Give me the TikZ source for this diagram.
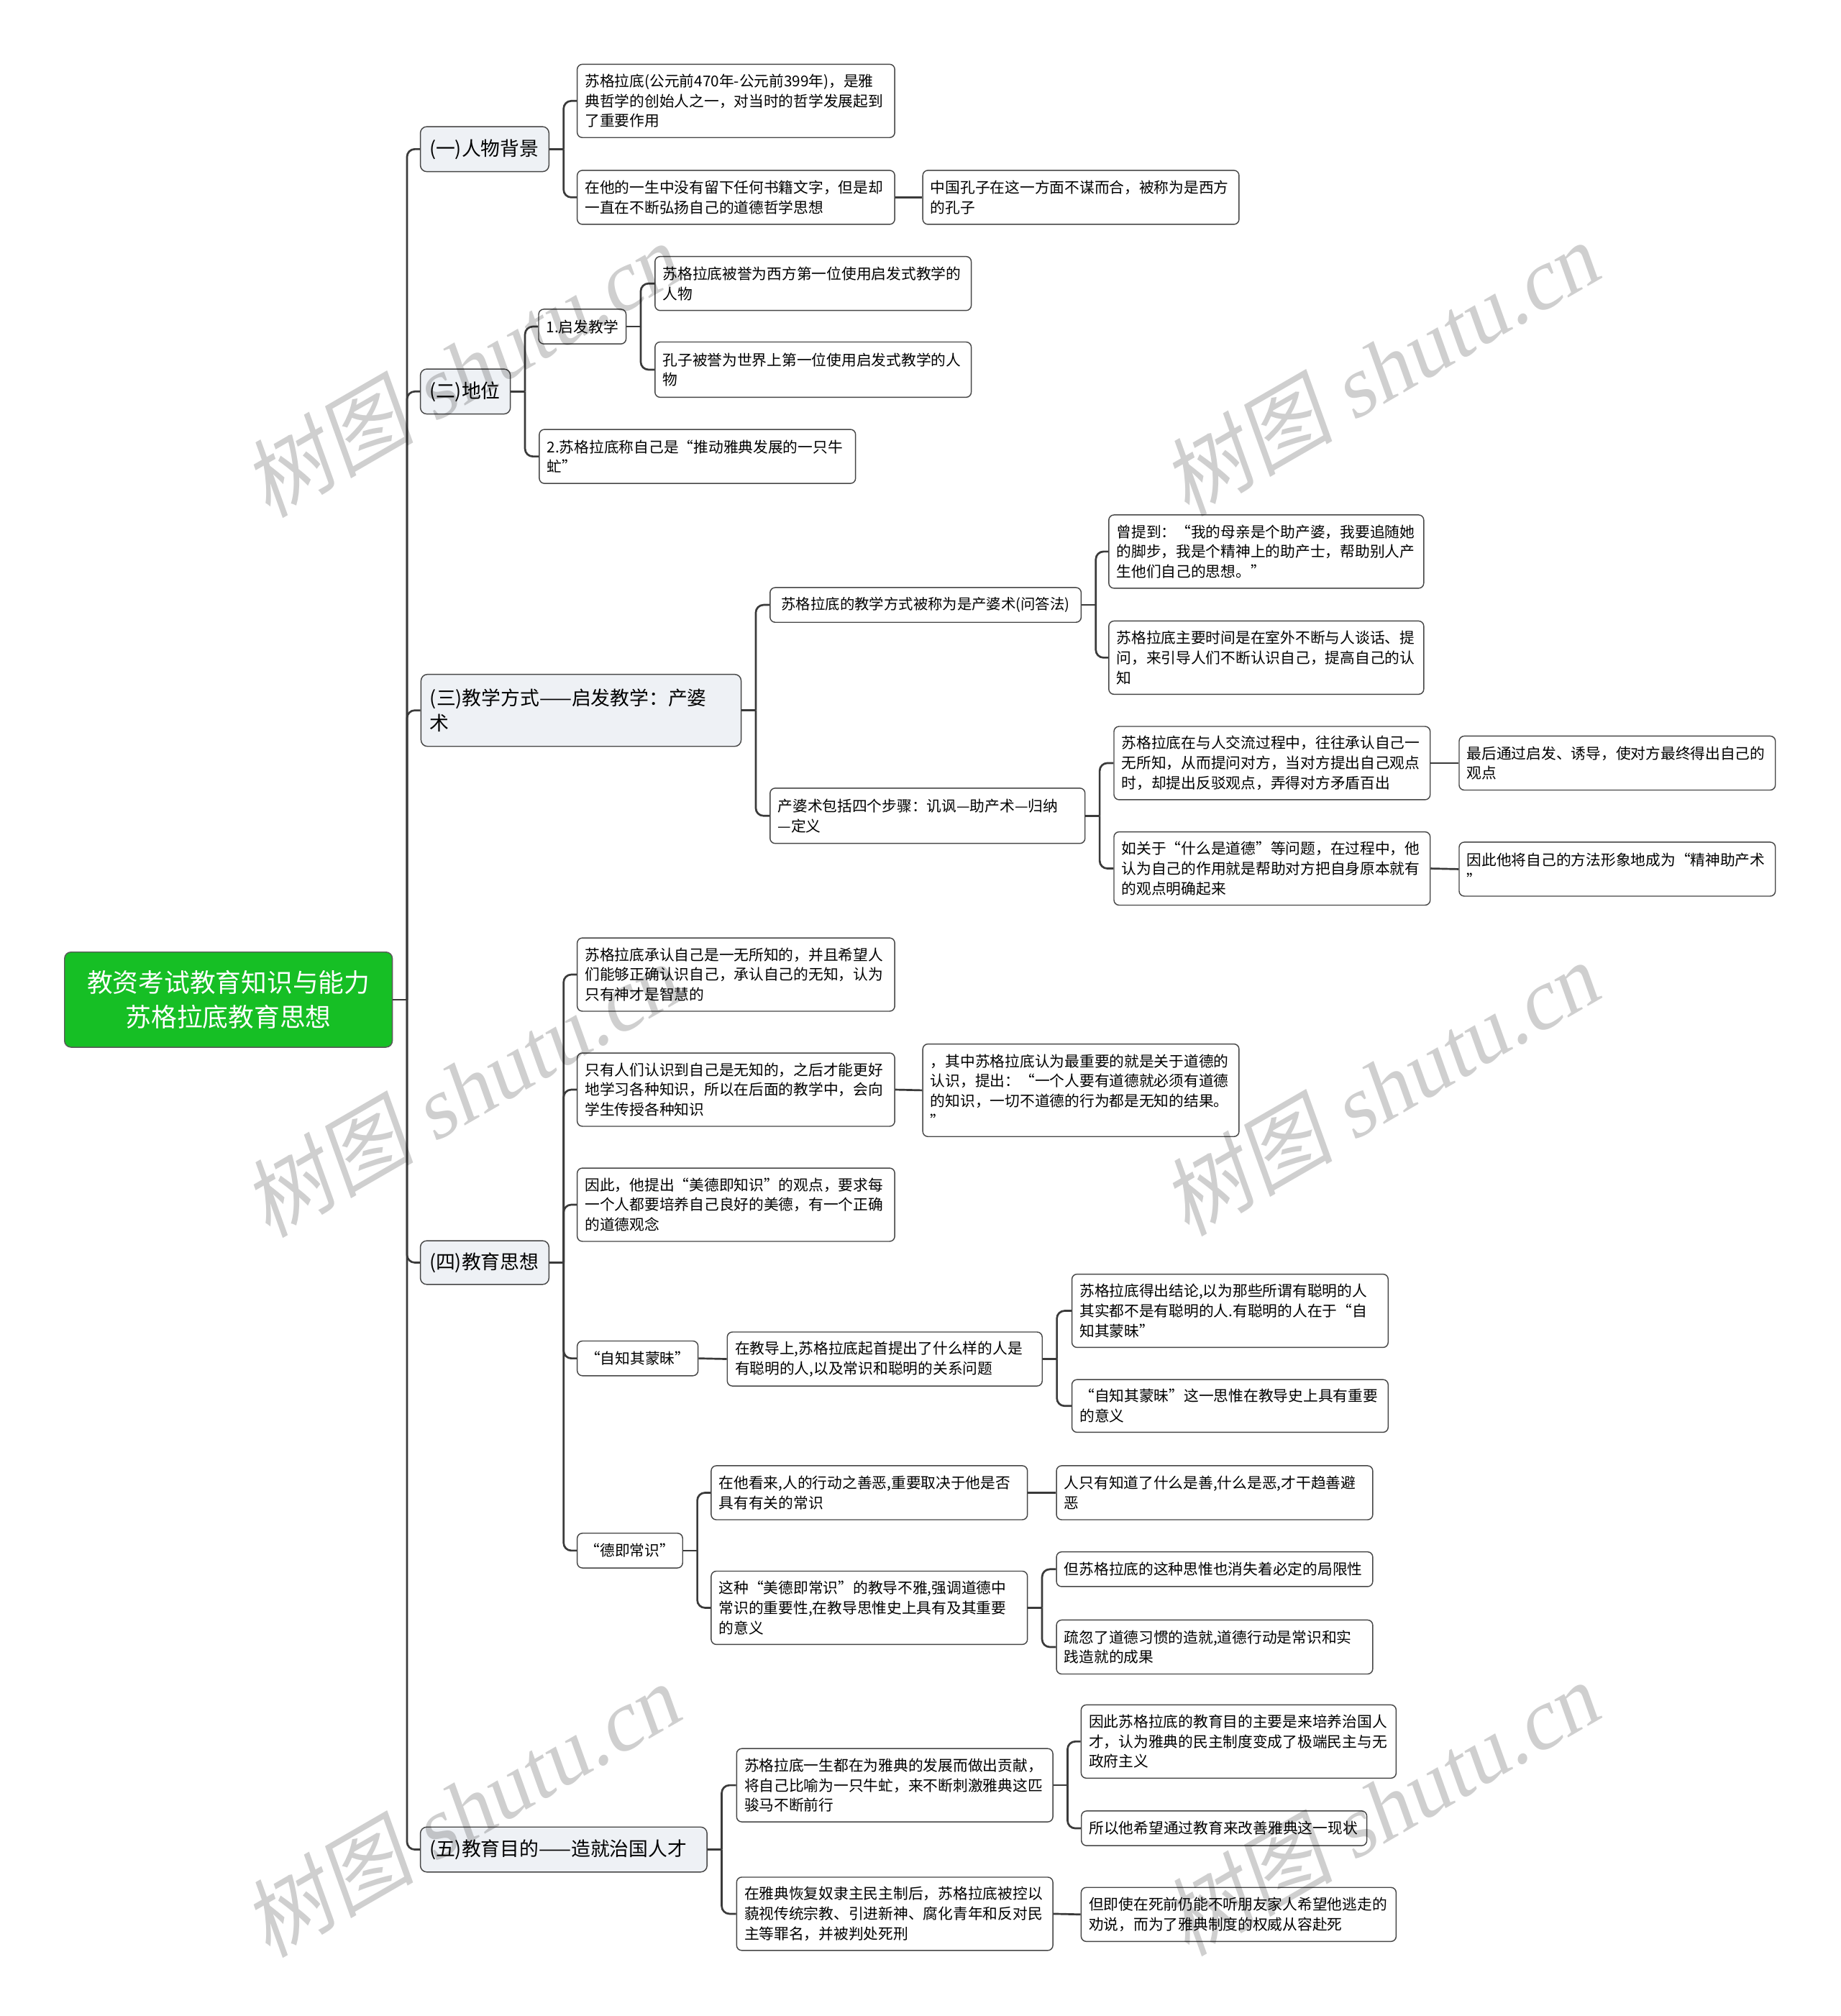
\documentclass[tikz,border=0pt]{standalone}
\usepackage{fontspec}
\setmainfont{Noto Sans CJK SC}
\newfontfamily\wmserif{Liberation Serif}[FakeSlant=0.18]
\newfontfamily\wmcjk{Noto Sans CJK SC}[FakeSlant=0.18]
\usetikzlibrary{calc}
\definecolor{linecol}{RGB}{58,58,58}
\definecolor{boxline}{RGB}{70,70,70}
\definecolor{topicfill}{RGB}{238,241,245}
\definecolor{rootfill}{RGB}{22,191,37}
\begin{document}
\begin{tikzpicture}[x=1pt,y=-1pt,
  leaf/.style={draw=boxline, line width=0.8pt, rounded corners=4pt, fill=white,
    font=\fontsize{11.6}{15.5}\selectfont, align=left, inner xsep=6pt, inner ysep=0pt},
  leafc/.style={leaf, align=center},
  topic/.style={draw=boxline, line width=0.8pt, rounded corners=5pt, fill=topicfill,
    font=\fontsize{15}{20}\selectfont, align=left, inner xsep=7pt, inner ysep=0pt},
  rootbox/.style={draw=black!65, line width=0.8pt, rounded corners=5pt, fill=rootfill,
    text=white, font=\fontsize{20}{27}\selectfont, align=center, inner sep=0pt},
  conn/.style={draw=linecol, line width=1.5pt, rounded corners=6pt},
  wmark/.style={text=black, text opacity=0.19, rotate=30, font=\fontsize{67}{67}\selectfont, inner sep=0pt}
]
\useasboundingbox (0,0) rectangle (1432,1568);
\fill[white] (0,0) rectangle (1432,1568);

% root and topics
\node[rootbox, minimum width=255pt, minimum height=74pt] (root) at (177.7,777.5) {教资考试教育知识与能力\\苏格拉底教育思想};
\node[topic, text width=86pt, minimum height=35pt] (T1) at (377,116) {(一)人物背景};
\node[topic, text width=56pt, minimum height=35pt] (T2) at (362,304.5) {(二)地位};
\node[topic, text width=235pt, minimum height=56pt] (T3) at (452,552.5) {(三)教学方式——启发教学：产婆\\术};
\node[topic, text width=86pt, minimum height=34pt] (T4) at (377,982) {(四)教育思想};
\node[topic, text width=209pt, minimum height=35pt] (T5) at (438.5,1438.5) {(五)教育目的——造就治国人才};

% (一)
\node[leaf, text width=235pt, minimum height=57pt] (A1) at (572.5,78.5) {苏格拉底(公元前470年-公元前399年)，是雅\\典哲学的创始人之一，对当时的哲学发展起到\\了重要作用};
\node[leaf, text width=235pt, minimum height=42pt] (A2) at (572.5,153.5) {在他的一生中没有留下任何书籍文字，但是却\\一直在不断弘扬自己的道德哲学思想};
\node[leaf, text width=234pt, minimum height=42pt] (A2a) at (840.8,153.5) {中国孔子在这一方面不谋而合，被称为是西方\\的孔子};

% (二)
\node[leafc, minimum width=68pt, minimum height=27pt, inner xsep=3pt] (B1) at (453,254) {1.启发教学};
\node[leaf, text width=234pt, minimum height=42pt] (B1a) at (632.5,220.5) {苏格拉底被誉为西方第一位使用启发式教学的\\人物};
\node[leaf, text width=234pt, minimum height=43pt] (B1b) at (632.5,287.5) {孔子被誉为世界上第一位使用启发式教学的人\\物};
\node[leaf, text width=234pt, minimum height=42pt] (B2) at (542.5,355) {2.苏格拉底称自己是“推动雅典发展的一只牛\\虻”};

% (三)
\node[leafc, minimum width=242pt, minimum height=27pt, inner xsep=2pt, font=\fontsize{11.4}{15.5}\selectfont] (C1) at (720,470.5) {苏格拉底的教学方式被称为是产婆术(问答法)};
\node[leaf, text width=233pt, minimum height=57pt] (C1a) at (985,429) {曾提到：“我的母亲是个助产婆，我要追随她\\的脚步，我是个精神上的助产士，帮助别人产\\生他们自己的思想。”};
\node[leaf, text width=233pt, minimum height=57pt] (C1b) at (985,511.5) {苏格拉底主要时间是在室外不断与人谈话、提\\问，来引导人们不断认识自己，提高自己的认\\知};
\node[leaf, text width=233pt, minimum height=43pt] (C2) at (721.5,634.5) {产婆术包括四个步骤：讥讽—助产术—归纳\\—定义};
\node[leaf, text width=234pt, minimum height=57pt] (C2a) at (989.5,593.5) {苏格拉底在与人交流过程中，往往承认自己一\\无所知，从而提问对方，当对方提出自己观点\\时，却提出反驳观点，弄得对方矛盾百出};
\node[leaf, text width=234pt, minimum height=42pt] (C2a1) at (1258,593.5) {最后通过启发、诱导，使对方最终得出自己的\\观点};
\node[leaf, text width=234pt, minimum height=57pt] (C2b) at (989.5,675.5) {如关于“什么是道德”等问题，在过程中，他\\认为自己的作用就是帮助对方把自身原本就有\\的观点明确起来};
\node[leaf, text width=234pt, minimum height=42pt] (C2b1) at (1258,676) {因此他将自己的方法形象地成为“精神助产术\\”};

% (四)
\node[leaf, text width=235pt, minimum height=57pt] (D1) at (572.5,758) {苏格拉底承认自己是一无所知的，并且希望人\\们能够正确认识自己，承认自己的无知，认为\\只有神才是智慧的};
\node[leaf, text width=235pt, minimum height=57pt] (D2) at (572.5,847.5) {只有人们认识到自己是无知的，之后才能更好\\地学习各种知识，所以在后面的教学中，会向\\学生传授各种知识};
\node[leaf, text width=234pt, minimum height=72pt] (D2a) at (840.8,848) {，其中苏格拉底认为最重要的就是关于道德的\\认识，提出：“一个人要有道德就必须有道德\\的知识，一切不道德的行为都是无知的结果。\\”};
\node[leaf, text width=235pt, minimum height=57pt] (D3) at (572.5,937) {因此，他提出“美德即知识”的观点，要求每\\一个人都要培养自己良好的美德，有一个正确\\的道德观念};
\node[leafc, minimum width=94pt, minimum height=27pt, inner xsep=3pt] (D4) at (496,1056.5) {“自知其蒙昧”};
\node[leaf, text width=233pt, minimum height=42pt] (D4a) at (688.2,1057) {在教导上,苏格拉底起首提出了什么样的人是\\有聪明的人,以及常识和聪明的关系问题};
\node[leaf, text width=234pt, minimum height=57pt] (D4a1) at (956.8,1019.5) {苏格拉底得出结论,以为那些所谓有聪明的人\\其实都不是有聪明的人.有聪明的人在于“自\\知其蒙昧”};
\node[leaf, text width=234pt, minimum height=41pt] (D4a2) at (956.8,1093.5) {“自知其蒙昧”这一思惟在教导史上具有重要\\的意义};
\node[leafc, minimum width=82pt, minimum height=27pt, inner xsep=3pt] (D5) at (490,1206) {“德即常识”};
\node[leaf, text width=234pt, minimum height=42pt] (D5a) at (676.2,1161) {在他看来,人的行动之善恶,重要取决于他是否\\具有有关的常识};
\node[leaf, text width=234pt, minimum height=42pt] (D5a1) at (944.8,1161) {人只有知道了什么是善,什么是恶,才干趋善避\\恶};
\node[leaf, text width=234pt, minimum height=57pt] (D5b) at (676.2,1250.5) {这种“美德即常识”的教导不雅,强调道德中\\常识的重要性,在教导思惟史上具有及其重要\\的意义};
\node[leaf, text width=234pt, minimum height=27pt] (D5b1) at (944.8,1220.5) {但苏格拉底的这种思惟也消失着必定的局限性};
\node[leaf, text width=234pt, minimum height=42pt] (D5b2) at (944.8,1281) {疏忽了道德习惯的造就,道德行动是常识和实\\践造就的成果};

% (五)
\node[leaf, text width=234pt, minimum height=57pt] (E1) at (696,1388.5) {苏格拉底一生都在为雅典的发展而做出贡献，\\将自己比喻为一只牛虻，来不断刺激雅典这匹\\骏马不断前行};
\node[leaf, text width=233pt, minimum height=57pt] (E1a) at (963.5,1354.5) {因此苏格拉底的教育目的主要是来培养治国人\\才，认为雅典的民主制度变成了极端民主与无\\政府主义};
\node[leaf, text width=210pt, minimum height=27pt] (E1b) at (952.2,1422) {所以他希望通过教育来改善雅典这一现状};
\node[leaf, text width=234pt, minimum height=57pt] (E2) at (696,1488.5) {在雅典恢复奴隶主民主制后，苏格拉底被控以\\藐视传统宗教、引进新神、腐化青年和反对民\\主等罪名，并被判处死刑};
\node[leaf, text width=233pt, minimum height=42pt] (E2a) at (963.5,1489) {但即使在死前仍能不听朋友家人希望他逃走的\\劝说，而为了雅典制度的权威从容赴死};

% junctions
\foreach \p in {root,T1,T2,B1,T3,C1,C2,T4,D4a,D5,D5b,T5,E1}
  \coordinate (j\p) at ($(\p.east)+(11,0)$);

\draw[conn] (root.east) -- (jroot);
\foreach \c in {T1,T2,T3,T4,T5} \draw[conn] (jroot) |- (\c.west);
\draw[conn] (T1.east) -- (jT1);
\foreach \c in {A1,A2} \draw[conn] (jT1) |- (\c.west);
\draw[conn] (A2.east) -- (A2a.west);
\draw[conn] (T2.east) -- (jT2);
\foreach \c in {B1,B2} \draw[conn] (jT2) |- (\c.west);
\draw[conn] (B1.east) -- (jB1);
\foreach \c in {B1a,B1b} \draw[conn] (jB1) |- (\c.west);
\draw[conn] (T3.east) -- (jT3);
\foreach \c in {C1,C2} \draw[conn] (jT3) |- (\c.west);
\draw[conn] (C1.east) -- (jC1);
\foreach \c in {C1a,C1b} \draw[conn] (jC1) |- (\c.west);
\draw[conn] (C2.east) -- (jC2);
\foreach \c in {C2a,C2b} \draw[conn] (jC2) |- (\c.west);
\draw[conn] (C2a.east) -- (C2a1.west);
\draw[conn] (C2b.east) -- (C2b1.west);
\draw[conn] (T4.east) -- (jT4);
\foreach \c in {D1,D2,D3,D4,D5} \draw[conn] (jT4) |- (\c.west);
\draw[conn] (D2.east) -- (D2a.west);
\draw[conn] (D4.east) -- (D4a.west);
\draw[conn] (D4a.east) -- (jD4a);
\foreach \c in {D4a1,D4a2} \draw[conn] (jD4a) |- (\c.west);
\draw[conn] (D5.east) -- (jD5);
\foreach \c in {D5a,D5b} \draw[conn] (jD5) |- (\c.west);
\draw[conn] (D5a.east) -- (D5a1.west);
\draw[conn] (D5b.east) -- (jD5b);
\foreach \c in {D5b1,D5b2} \draw[conn] (jD5b) |- (\c.west);
\draw[conn] (T5.east) -- (jT5);
\foreach \c in {E1,E2} \draw[conn] (jT5) |- (\c.west);
\draw[conn] (E1.east) -- (jE1);
\foreach \c in {E1a,E1b} \draw[conn] (jE1) |- (\c.west);
\draw[conn] (E2.east) -- (E2a.west);

% watermarks
\foreach \wx/\wy [count=\i] in {358/288, 1073/287, 358/848, 1073/847, 358/1408, 1073/1407}
  \node[wmark] (wm\i) at (\wx,\wy) {{\wmcjk 树图} {\wmserif shutu.cn}};
\end{tikzpicture}
\end{document}
